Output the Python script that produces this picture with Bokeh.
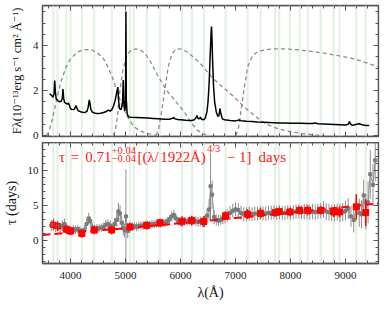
import numpy as np
from bokeh.plotting import figure
from bokeh.models import (Range1d, LinearAxis, SingleIntervalTicker, Label, ColumnDataSource,
                          CustomJSTickFormatter)
from bokeh.layouts import column
from bokeh.embed import file_html
from bokeh.resources import INLINE

# ---------------- data ----------------
spec_wl = [3620, 3650, 3680, 3700, 3712, 3725, 3740, 3770, 3800, 3830, 3850, 3862, 3875, 3890,
           3920, 3950, 3962, 3975, 3990, 4010, 4040, 4070, 4090, 4102, 4115, 4140, 4180, 4220,
           4260, 4300, 4320, 4335, 4342, 4352, 4370, 4400, 4450, 4500, 4550, 4600, 4650, 4686,
           4720, 4750, 4780, 4810, 4835, 4852, 4861, 4872, 4890, 4920, 4945, 4959, 4972, 4990,
           5000, 5007, 5014, 5030, 5060, 5100, 5200, 5300, 5400, 5500, 5600, 5700, 5800, 5850,
           5876, 5900, 5950, 6000, 6100, 6200, 6250, 6285, 6300, 6320, 6350, 6363, 6380, 6420,
           6450, 6480, 6500, 6520, 6540, 6555, 6563, 6572, 6585, 6600, 6620, 6650, 6680, 6700,
           6716, 6731, 6760, 6800, 6900, 7000, 7065, 7100, 7200, 7300, 7400, 7500, 7600, 7700,
           7800, 7900, 8000, 8100, 8200, 8300, 8400, 8450, 8500, 8600, 8700, 8800, 8900, 9000,
           9050, 9070, 9090, 9120, 9150, 9200, 9250, 9300, 9350, 9400, 9430]
spec_flux = [1.85, 1.80, 1.70, 1.85, 2.44, 1.90, 1.62, 1.55, 1.50, 1.52, 1.65, 2.07, 1.65, 1.48,
             1.42, 1.40, 1.45, 1.38, 1.25, 1.17, 1.15, 1.17, 1.28, 1.33, 1.22, 1.10, 1.06, 1.03,
             1.02, 1.08, 1.25, 1.50, 1.58, 1.45, 1.15, 1.03, 0.99, 0.98, 0.99, 1.02, 1.07, 1.13,
             1.08, 1.15, 1.30, 1.55, 1.85, 2.05, 2.15, 1.60, 1.20, 1.15, 1.45, 2.47, 1.30, 1.10,
             1.60, 5.51, 1.60, 0.95, 0.82, 0.81, 0.80, 0.79, 0.78, 0.76, 0.74, 0.72, 0.72, 0.76,
             0.80, 0.74, 0.71, 0.70, 0.68, 0.67, 0.70, 0.80, 0.89, 0.75, 0.76, 0.82, 0.72, 0.70,
             0.78, 1.05, 1.50, 2.30, 3.60, 4.50, 4.84, 4.30, 3.20, 2.20, 1.50, 1.05, 0.85, 0.90,
             1.20, 1.00, 0.74, 0.70, 0.67, 0.65, 0.69, 0.66, 0.63, 0.62, 0.60, 0.59, 0.58, 0.57,
             0.56, 0.56, 0.55, 0.55, 0.54, 0.53, 0.53, 0.56, 0.52, 0.51, 0.50, 0.49, 0.48, 0.47,
             0.50, 0.62, 0.52, 0.46, 0.47, 0.50, 0.52, 0.48, 0.46, 0.45, 0.45]

fA_wl = [3560, 3600, 3650, 3710, 3770, 3830, 3920, 4000, 4120, 4240, 4360, 4480, 4600, 4680,
         4770, 4860, 4950, 5040, 5150, 5250, 5360, 5450, 5550]
fA_val = [0.0, 0.15, 0.52, 1.19, 1.85, 2.44, 3.04, 3.41, 3.70, 3.82, 3.82, 3.70, 3.41, 3.04,
          2.52, 1.85, 1.26, 0.81, 0.40, 0.22, 0.12, 0.06, 0.02]
fB_wl = [4780, 4820, 4850, 4890, 4950, 5020, 5100, 5190, 5280, 5360, 5450, 5600, 5750, 5900,
         6070, 6200, 6300, 6400, 6500]
fB_val = [0.0, 0.30, 0.81, 1.85, 2.89, 3.56, 3.80, 3.85, 3.78, 3.63, 3.30, 2.60, 2.00, 1.55,
          1.04, 0.55, 0.25, 0.08, 0.0]
fC_wl = [5560, 5600, 5660, 5720, 5775, 5835, 5900, 5950, 6020, 6130, 6250, 6365, 6480, 6600,
         6720, 6840, 6980, 7130, 7310, 7450, 7550, 7700, 7900, 8100, 8250, 8450, 8610]
fC_val = [0.0, 0.30, 1.11, 2.15, 3.04, 3.56, 3.80, 3.85, 3.84, 3.70, 3.45, 3.19, 2.85, 2.52,
          2.25, 2.00, 1.70, 1.33, 0.96, 0.68, 0.52, 0.36, 0.22, 0.13, 0.07, 0.03, 0.0]
fD_wl = [7010, 7060, 7100, 7160, 7220, 7310, 7400, 7490, 7660, 7850, 8080, 8350, 8610, 8850,
         9080, 9300, 9600]
fD_val = [0.0, 0.40, 1.11, 2.15, 3.04, 3.56, 3.72, 3.78, 3.85, 3.85, 3.82, 3.75, 3.66, 3.56,
          3.45, 3.30, 3.05]

gray_wl = [3650, 3690, 3730, 3770, 3810, 3850, 3890, 3930, 3970, 4010, 4050, 4090, 4130, 4170,
           4210, 4250, 4290, 4330, 4360, 4400, 4440, 4480, 4520, 4560, 4600, 4640, 4680, 4720,
           4760, 4800, 4840, 4870, 4900, 4930, 4960, 4985, 5007, 5040, 5080, 5120, 5160, 5200,
           5240, 5280, 5320, 5360, 5400, 5440, 5480, 5520, 5560, 5600, 5640, 5680, 5720, 5760,
           5800, 5840, 5880, 5920, 5960, 6000, 6040, 6080, 6120, 6160, 6200, 6240, 6280, 6320,
           6360, 6400, 6440, 6480, 6520, 6545, 6575, 6610, 6650, 6690, 6730, 6770, 6810, 6850,
           6900, 6950, 7000, 7050, 7100, 7150, 7200, 7250, 7300, 7350, 7400, 7450, 7500, 7550,
           7600, 7650, 7700, 7750, 7800, 7850, 7900, 7950, 8000, 8050, 8100, 8150, 8200, 8250,
           8300, 8350, 8400, 8450, 8500, 8550, 8600, 8650, 8700, 8750, 8800, 8850, 8900, 8950,
           9000, 9050, 9100, 9150, 9200, 9250, 9290, 9330, 9370, 9410, 9450, 9500, 9540]
gray_tau = [2.2, 2.4, 2.0, 2.1, 1.9, 2.2, 2.4, 1.8, 1.6, 1.5, 1.7, 1.6, 1.7, 1.5,
            1.2, 1.6, 2.4, 3.2, 2.8, 1.9, 1.7, 1.8, 1.8, 1.9, 2.0, 2.3, 2.4, 2.2,
            1.8, 2.4, 3.0, 4.2, 3.9, 2.6, 1.8, 1.5, 3.5, 1.4, 1.9, 2.0, 2.1, 2.0,
            2.1, 2.2, 2.2, 2.3, 2.2, 2.3, 2.4, 2.4, 2.5, 2.5, 2.5, 2.6, 2.6, 2.8,
            3.1, 3.5, 3.7, 3.2, 2.8, 2.7, 2.7, 2.8, 2.8, 2.9, 2.8, 2.9, 2.8, 2.7,
            2.8, 2.7, 2.8, 3.6, 4.5, 7.8, 6.6, 3.4, 3.0, 2.9, 3.0, 3.2, 3.4, 3.6,
            4.0, 4.3, 4.5, 4.4, 4.0, 3.8, 3.8, 3.9, 3.8, 3.9, 3.9, 4.0, 3.9, 3.9,
            4.0, 4.0, 4.1, 4.0, 4.1, 4.0, 4.0, 4.1, 4.0, 4.1, 4.2, 4.2, 4.1, 4.2,
            4.2, 4.1, 4.2, 4.1, 4.2, 4.3, 4.5, 4.2, 4.1, 4.0, 4.0, 4.1, 4.0, 4.1,
            4.3, 4.6, 3.5, 3.0, 4.8, 4.0, 3.8, 6.5, 4.2, 5.5, 9.5, 8.0, 11.5]
gray_err = [0.8, 0.9, 0.7, 0.7, 0.7, 0.8, 0.8, 0.7, 0.6, 0.6, 0.6, 0.6, 0.6, 0.6,
            0.6, 0.6, 0.7, 0.8, 0.7, 0.6, 0.6, 0.6, 0.6, 0.6, 0.6, 0.7, 0.7, 0.7,
            0.7, 0.8, 1.0, 1.3, 1.2, 1.0, 1.0, 1.0, 6.7, 1.0, 0.7, 0.6, 0.6, 0.6,
            0.6, 0.6, 0.6, 0.6, 0.6, 0.6, 0.6, 0.6, 0.6, 0.6, 0.6, 0.6, 0.6, 0.6,
            0.6, 0.7, 0.7, 0.6, 0.6, 0.6, 0.6, 0.6, 0.6, 0.6, 0.6, 0.6, 0.7, 0.7,
            0.7, 0.7, 0.8, 1.0, 1.5, 4.8, 2.0, 1.0, 0.8, 0.8, 0.7, 0.8, 0.9, 0.9,
            1.0, 1.0, 1.0, 1.0, 1.0, 1.0, 1.0, 1.0, 1.0, 1.0, 1.0, 1.0, 1.0, 1.0,
            1.0, 1.0, 1.0, 1.0, 1.0, 1.0, 1.0, 1.0, 1.0, 1.0, 1.0, 1.0, 1.0, 1.1,
            1.1, 1.1, 1.1, 1.1, 1.1, 1.1, 1.2, 1.2, 1.2, 1.2, 1.2, 1.2, 1.3, 1.3,
            1.4, 1.5, 1.5, 1.8, 1.8, 2.0, 2.0, 2.2, 2.5, 3.0, 3.5, 3.0, 3.0]

red_open_wl = [3687, 3763]
red_open_tau = [2.30, 2.12]
red_open_err = [0.7, 0.7]
red_wl = [3922, 4000, 4205, 4430, 4749, 5080, 5386, 5628, 6028, 6205, 6425, 6819, 7221, 7456,
          7722, 7793, 7988, 8165, 8312, 8549, 8784, 8890, 9196, 9368]
red_tau = [1.67, 1.40, 1.07, 1.55, 1.55, 2.00, 2.22, 2.58, 2.81, 2.90, 2.77, 3.59, 3.81, 3.95,
           4.04, 4.18, 4.13, 4.36, 4.36, 4.36, 4.13, 4.13, 4.86, 4.04]
red_err = [0.6, 0.6, 0.6, 0.6, 0.6, 0.6, 0.6, 0.6, 0.7, 0.7, 0.8, 0.6, 0.7, 0.7,
           0.6, 0.6, 0.6, 0.6, 0.7, 0.6, 0.7, 0.8, 1.8, 1.9]

band_wl = [3687, 3763, 3922, 4000, 4205, 4430, 4749, 5080, 5150, 5386, 5628, 6028, 6205, 6425,
           6819, 7221, 7456, 7722, 7793, 7988, 8165, 8312, 8549, 8784, 8890, 9196, 9368]

model_wl = [3490, 4000, 4500, 5000, 5500, 6000, 6500, 7000, 7500, 8000, 8500, 9000, 9500, 9600]
model_tau = [0.85, 1.18, 1.50, 1.80, 2.17, 2.53, 2.89, 3.27, 3.65, 4.04, 4.44, 4.85, 5.27, 5.35]

# ---------------- styling ----------------
FONT = "Liberation Serif, DejaVu Serif, serif"
FRAME = "#555555"
BAND = "#e4f1e4"
X0, X1 = 3490, 9600
XR = Range1d(X0, X1)
BLANK = CustomJSTickFormatter(code="return ''")


def add_axes(p, y0, y1, xint, xminor, yint, yminor, show_x, ylabel, ylabel_size, xlabel=None):
    p.add_layout(LinearAxis(fixed_location=y1), "above")
    p.add_layout(LinearAxis(fixed_location=X1), "right")
    if not show_x:
        p.below[0].fixed_location = y0
    for ax in p.axis:
        ax.major_tick_in = 5
        ax.major_tick_out = 0
        ax.minor_tick_in = 3
        ax.minor_tick_out = 0
        ax.major_tick_line_color = FRAME
        ax.minor_tick_line_color = FRAME
        ax.axis_line_color = FRAME
        ax.axis_line_width = 1.3
        ax.major_label_text_font = FONT
        ax.major_label_text_font_size = "11px"
        ax.major_label_text_color = "#222222"
        ax.axis_label_text_font = FONT
        ax.axis_label_text_font_style = "normal"
        ax.axis_label_text_font_size = "14px"
        ax.axis_label_text_color = "#111111"
    for ax in p.xaxis:
        ax.ticker = SingleIntervalTicker(interval=xint, num_minor_ticks=xminor)
    for ax in p.yaxis:
        ax.ticker = SingleIntervalTicker(interval=yint, num_minor_ticks=yminor)
    hidden = [p.above[0], p.right[0]]
    if not show_x:
        hidden.append(p.below[0])
    for ax in hidden:
        ax.formatter = BLANK
        ax.major_label_standoff = 0
    p.left[0].axis_label = ylabel
    p.left[0].axis_label_text_font_size = ylabel_size
    p.left[0].major_label_standoff = 4
    p.left[0].axis_label_standoff = 6
    if xlabel:
        p.below[0].axis_label = xlabel
        p.below[0].major_label_standoff = 8
        p.below[0].axis_label_standoff = 3
    p.xgrid.visible = False
    p.ygrid.visible = False
    p.outline_line_color = FRAME
    p.outline_line_width = 1.3


# ---------------- top panel ----------------
T0, T1 = -0.044, 5.778
p1 = figure(width=380, height=142, x_range=XR, y_range=Range1d(T0, T1),
            output_backend="svg", toolbar_location=None,
            min_border_left=33, min_border_right=2, min_border_top=5, min_border_bottom=6)
p1.vbar(x=band_wl, width=40, bottom=-10, top=20, color=BAND, line_color=None)
for wl, val in [(fA_wl, fA_val), (fB_wl, fB_val), (fC_wl, fC_val), (fD_wl, fD_val)]:
    p1.line(wl, val, color="#8c8c8c", line_width=1.3, line_dash="4 3")
p1.line(spec_wl, spec_flux, color="black", line_width=1.5)
add_axes(p1, T0, T1, 1000, 5, 2, 4, False, "Fλ(10⁻¹³erg s⁻¹ cm² Å⁻¹)", "12.5px")

# ---------------- bottom panel ----------------
B0, B1 = -3.22, 14.04
p2 = figure(width=380, height=160, x_range=XR, y_range=Range1d(B0, B1),
            output_backend="svg", toolbar_location=None,
            min_border_left=33, min_border_right=2, min_border_top=0, min_border_bottom=34)
p2.vbar(x=band_wl, width=40, bottom=-10, top=20, color=BAND, line_color=None)

g = ColumnDataSource(dict(x=gray_wl, y=gray_tau,
                          lo=np.array(gray_tau) - np.array(gray_err),
                          hi=np.array(gray_tau) + np.array(gray_err)))
p2.segment(x0="x", y0="lo", x1="x", y1="hi", source=g, color="#8f8f8f", line_width=1)
p2.line("x", "y", source=g, color="#8f8f8f", line_width=1)
p2.scatter("x", "y", source=g, marker="square", size=3, color="#7a7a7a")

p2.line(model_wl, model_tau, color="red", line_width=2, line_dash="8 4")

r = ColumnDataSource(dict(x=red_wl, y=red_tau,
                          lo=np.array(red_tau) - np.array(red_err),
                          hi=np.array(red_tau) + np.array(red_err)))
p2.segment(x0="x", y0="lo", x1="x", y1="hi", source=r, color="red", line_width=1.5)
p2.scatter("x", "y", source=r, marker="square", size=6, color="red")
ro = ColumnDataSource(dict(x=red_open_wl, y=red_open_tau,
                           lo=np.array(red_open_tau) - np.array(red_open_err),
                           hi=np.array(red_open_tau) + np.array(red_open_err)))
p2.segment(x0="x", y0="lo", x1="x", y1="hi", source=ro, color="red", line_width=1.2)
p2.scatter("x", "y", source=ro, marker="square", size=5, line_color="red",
           fill_color=None, line_width=1.2)

add_axes(p2, B0, B1, 1000, 5, 5, 5, True, "τ (days)", "14px", "λ(Å)")

RED = "#ff2020"
parts = [
    ("τ", 3791, 11.95, "15px"),
    ("=", 4004, 11.95, "15px"),
    ("0.71", 4269, 11.95, "15px"),
    ("+0.04", 4748, 12.9, "10.5px"),
    ("−0.04", 4748, 11.7, "10.5px"),
    ("[(", 5217, 11.95, "15px"),
    ("λ/", 5394, 11.95, "15px"),
    ("1922", 5630, 11.95, "15px"),
    ("Å)", 6170, 11.95, "15px"),
    ("4/3", 6480, 13.25, "10.5px"),
    ("− 1]", 6840, 11.95, "15px"),
    ("days", 7420, 11.95, "15px"),
]
for txt, xx, yy, fs in parts:
    p2.add_layout(Label(x=xx, y=yy, text=txt, text_font=FONT, text_font_size=fs,
                        text_color=RED, text_baseline="alphabetic", text_align="left"))

layout = column(p1, p2, spacing=0)
open("out.html", "w").write(file_html(layout, INLINE))
